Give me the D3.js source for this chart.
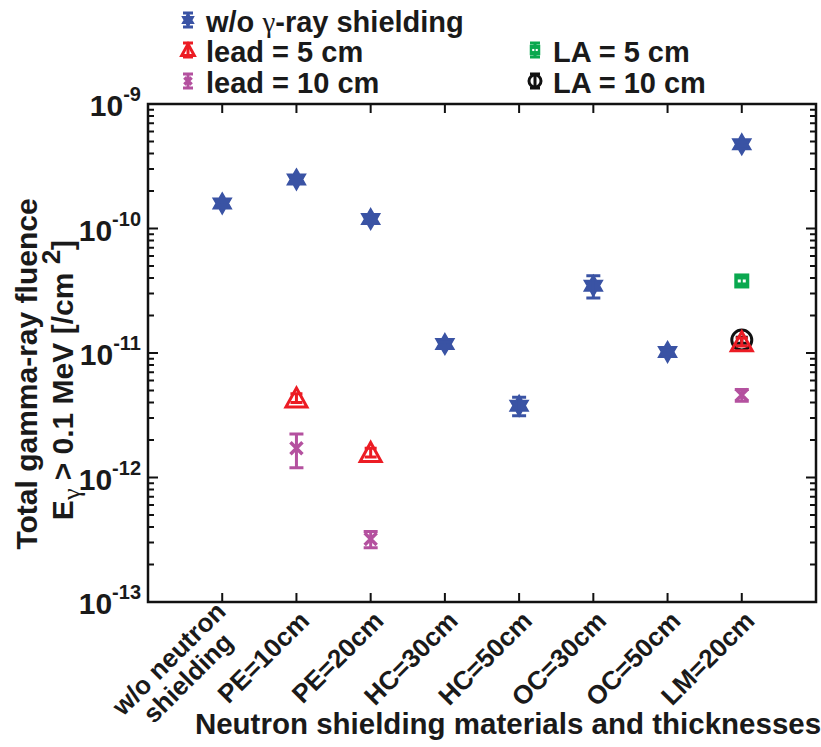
<!DOCTYPE html>
<html>
<head>
<meta charset="utf-8">
<script src="https://cdn.jsdelivr.net/npm/d3@7"></script>
<style>
  body { margin: 0; background: #fff; }
  text { font-family: "Liberation Sans", Arial, sans-serif; font-weight: bold; fill: #1a1a1a; }
</style>
</head>
<body>
<script>
// categories along the x axis
const categories = ["w/o neutron\nshielding", "PE=10cm", "PE=20cm", "HC=30cm", "HC=50cm", "OC=30cm", "OC=50cm", "LM=20cm"];

// total gamma-ray fluence [/cm2], null = not measured
const noGamma    = [1.59e-10, 2.48e-10, 1.19e-10, 1.18e-11, 3.77e-12, 3.47e-11, 1.02e-11, 4.75e-10];
const noGammaErr = [0.06e-10, 0.10e-10, 0.05e-10, 0.05e-11, 0.64e-12, 0.70e-11, 0.04e-11, 0.18e-10];
const lead5      = [null, 4.35e-12, 1.59e-12, null, null, null, null, 1.23e-11];
const lead5Err   = [null, 0.35e-12, 0.13e-12, null, null, null, null, 0.09e-11];
const lead10     = [null, 1.72e-12, 3.21e-13, null, null, null, null, 4.6e-12];
const lead10Err  = [null, 0.52e-12, 0.48e-13, null, null, null, null, 0.5e-12];
const la5        = [null, null, null, null, null, null, null, 3.79e-11];
const la5Err     = [null, null, null, null, null, null, null, 0.2e-11];
const la10       = [null, null, null, null, null, null, null, 1.27e-11];
const la10Err    = [null, null, null, null, null, null, null, 0.07e-11];

const yTicks = [1e-13, 1e-12, 1e-11, 1e-10, 1e-9];

const W = 821, H = 747;
const margin = { top: 104, right: 5, bottom: 145, left: 148 };

const svg = d3.select("body").append("svg").attr("width", W).attr("height", H);

const x = d3.scaleLinear().domain([0, 9]).range([margin.left, W - margin.right]);
const y = d3.scaleLog().domain([1e-13, 1e-9]).range([H - margin.bottom, margin.top]);

const blue = "#3a53a4", red = "#ec1c24", magenta = "#b4519f", green = "#0aa84f", black = "#111";

// ---- marker shapes ----
function hexagram(R) {
  const r = R / Math.sqrt(3);
  const pts = [];
  for (let i = 0; i < 12; i++) {
    const a = -Math.PI / 2 + i * Math.PI / 6;
    const rr = i % 2 ? r : R;
    pts.push([rr * Math.cos(a), rr * Math.sin(a)]);
  }
  return "M" + pts.join("L") + "Z";
}

function drawMarker(g, kind, s, color) {
  // s = scale factor (1 for plot, smaller for legend)
  if (kind === "star") {
    g.append("path").attr("d", hexagram(10.5 * s)).attr("fill", color).attr("stroke", color).attr("stroke-width", 1.5);
  } else if (kind === "tri") {
    g.append("path")
      .attr("d", `M0,${-10 * s}L${10.5 * s},${9 * s}L${-10.5 * s},${9 * s}Z`)
      .attr("fill", "none").attr("stroke", color).attr("stroke-width", 3).attr("stroke-linejoin", "miter");
  } else if (kind === "x") {
    const d = 6 * s;
    g.append("path").attr("d", `M${-d},${-d}L${d},${d}M${-d},${d}L${d},${-d}`)
      .attr("stroke", color).attr("stroke-width", 3.5);
  } else if (kind === "square") {
    const d = 7.5 * s;
    g.append("rect").attr("x", -d).attr("y", -d).attr("width", 2 * d).attr("height", 2 * d).attr("fill", color);
    g.append("rect").attr("x", -4 * s).attr("y", -1.5 * s).attr("width", 3 * s).attr("height", 3 * s).attr("fill", "#fff");
    g.append("rect").attr("x", 1 * s).attr("y", -1.5 * s).attr("width", 3 * s).attr("height", 3 * s).attr("fill", "#fff");
  } else if (kind === "circle") {
    g.append("circle").attr("r", 10 * s).attr("fill", "none").attr("stroke", color).attr("stroke-width", 3);
  }
}

function errorBar(g, y0, y1, cap, color) {
  g.append("path")
    .attr("d", `M0,${y0}L0,${y1}M${-cap},${y0}L${cap},${y0}M${-cap},${y1}L${cap},${y1}`)
    .attr("stroke", color).attr("stroke-width", 3).attr("fill", "none");
}

// ---- frame & ticks ----
const plot = svg.append("g");
const x0 = x.range()[0], x1 = x.range()[1], yb = y.range()[0], yt = y.range()[1];

// y minor + major ticks (left & right, inward)
const minor = [];
for (let e = -13; e < -9; e++) for (let m = 2; m <= 9; m++) minor.push(m * Math.pow(10, e));
plot.selectAll(".ymin").data(minor).enter().append("path")
  .attr("d", d => `M${x0},${y(d)}h6M${x1},${y(d)}h-6`)
  .attr("stroke", "#111").attr("stroke-width", 2);
plot.selectAll(".ymaj").data(yTicks).enter().append("path")
  .attr("d", d => `M${x0},${y(d)}h10M${x1},${y(d)}h-10`)
  .attr("stroke", "#111").attr("stroke-width", 2);

// x ticks (bottom & top, inward)
plot.selectAll(".xt").data(categories).enter().append("path")
  .attr("d", (d, i) => `M${x(i + 1)},${yb}v-9M${x(i + 1)},${yt}v9`)
  .attr("stroke", "#111").attr("stroke-width", 2);

plot.append("rect").attr("x", x0).attr("y", yt).attr("width", x1 - x0).attr("height", yb - yt)
  .attr("fill", "none").attr("stroke", "#111").attr("stroke-width", 2.5);

// y tick labels 10^n
const yl = svg.selectAll(".ytl").data(yTicks).enter().append("text")
  .attr("text-anchor", "end")
  .attr("x", 141).attr("y", d => y(d) + 12)
  .style("font-size", "30px");
yl.append("tspan").text("10");
yl.append("tspan").attr("dy", -15).style("font-size", "20px").text(d => String(Math.round(Math.log10(d))));

// x tick labels, rotated; multi-line block centred on the anchor, lines centred
const lh = 27;
categories.forEach((c, i) => {
  const g = svg.append("g").attr("transform", `translate(${x(i + 1) + 8},${yb + 14}) rotate(-45)`);
  const lines = c.split("\n");
  if (lines.length === 1) {
    g.append("text").attr("text-anchor", "end").attr("dy", "0.35em").style("font-size", "26px").text(c);
  } else {
    const t1 = g.append("text").attr("text-anchor", "end").attr("y", -lh / 2).attr("dy", "0.35em")
      .style("font-size", "26px").text(lines[0]);
    const w1 = t1.node().getComputedTextLength();
    g.append("text").attr("text-anchor", "middle").attr("x", -w1 / 2).attr("y", lh / 2).attr("dy", "0.35em")
      .style("font-size", "26px").text(lines[1]);
  }
});

// axis titles
svg.append("text").attr("x", 508).attr("y", 734).attr("text-anchor", "middle")
  .style("font-size", "29.5px").text("Neutron shielding materials and thicknesses");

svg.append("text").attr("transform", "translate(37,374) rotate(-90)").attr("text-anchor", "middle")
  .style("font-size", "30px").text("Total gamma-ray fluence");
const yl2 = svg.append("text").attr("transform", "translate(73,380) rotate(-90)").attr("text-anchor", "middle")
  .style("font-size", "30px");
yl2.append("tspan").text("E");
yl2.append("tspan").attr("dy", 7).style("font-family", "'Liberation Serif', serif").style("font-weight", "normal").style("font-size", "26px").text("γ");
yl2.append("tspan").attr("dy", -7).text(" > 0.1 MeV [/cm ");
yl2.append("tspan").attr("dy", -13).style("font-size", "26px").text("2");
yl2.append("tspan").attr("dy", 13).text("]");

// ---- data ----
const series = [
  { name: "w/o γ-ray shielding", vals: noGamma, err: noGammaErr, kind: "star", color: blue, cap: 7 },
  { name: "LA = 5 cm", vals: la5, err: la5Err, kind: "square", color: green, cap: 5 },
  { name: "LA = 10 cm", vals: la10, err: la10Err, kind: "circle", color: black, cap: 6 },
  { name: "lead = 5 cm", vals: lead5, err: lead5Err, kind: "tri", color: red, cap: 6 },
  { name: "lead = 10 cm", vals: lead10, err: lead10Err, kind: "x", color: magenta, cap: 7 }
];

series.forEach(s => {
  s.vals.forEach((v, i) => {
    if (v == null) return;
    const g = svg.append("g").attr("transform", `translate(${x(i + 1)},${y(v)})`);
    const e = s.err[i];
    if (s.kind !== "square") drawMarker(g, s.kind, 1, s.color);
    errorBar(g, y(v + e) - y(v), y(v - e) - y(v), s.cap, s.color);
    if (s.kind === "square") drawMarker(g, s.kind, 1, s.color);
  });
});

// ---- legend ----
const legendItems = [
  { name: "w/o γ-ray shielding", kind: "star", color: blue, lx: 188, ly: 20 },
  { name: "lead = 5 cm", kind: "tri", color: red, lx: 188, ly: 50 },
  { name: "lead = 10 cm", kind: "x", color: magenta, lx: 188, ly: 81 },
  { name: "LA = 5 cm", kind: "square", color: green, lx: 535, ly: 50 },
  { name: "LA = 10 cm", kind: "circle", color: black, lx: 535, ly: 81 }
];
legendItems.forEach(it => {
  const g = svg.append("g").attr("transform", `translate(${it.lx},${it.ly})`);
  if (it.kind !== "square") drawMarker(g, it.kind, 0.6, it.color);
  errorBar(g, -7, 7, 5, it.color);
  if (it.kind === "square") drawMarker(g, it.kind, 0.7, it.color);
  const t = svg.append("text").attr("x", it.lx + 18).attr("y", it.ly + 12).style("font-size", "29px");
  if (it.kind === "star") {
    t.append("tspan").text("w/o ");
    t.append("tspan").style("font-family", "'Liberation Serif', serif").style("font-weight", "normal").text("γ");
    t.append("tspan").text("-ray shielding");
  } else {
    t.text(it.name);
  }
});
</script>
</body>
</html>
